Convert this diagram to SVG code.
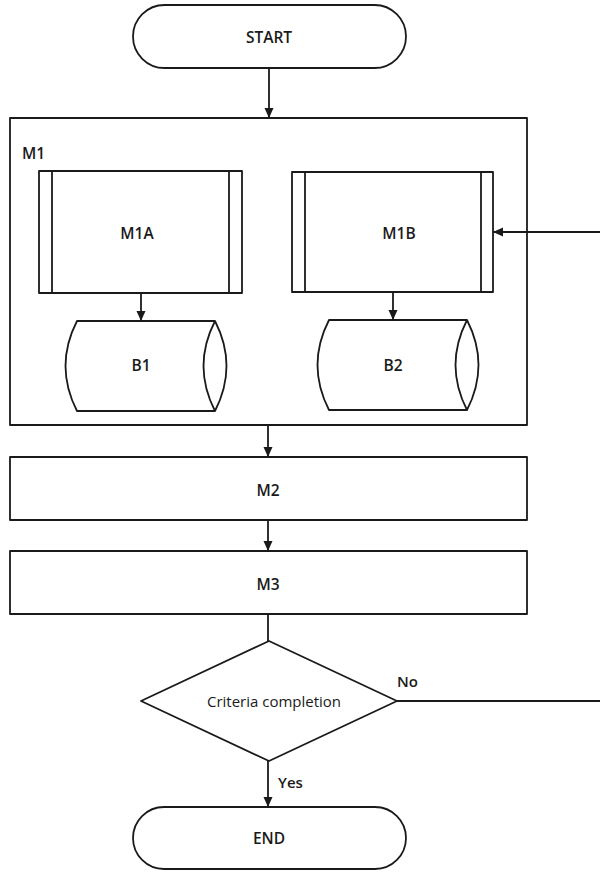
<svg xmlns="http://www.w3.org/2000/svg" width="600" height="872" viewBox="0 0 600 872">
<style>
.s{fill:#fff;stroke:#1a1a1a;stroke-width:1.8;stroke-linejoin:round}
.c{fill:none;stroke:#1a1a1a;stroke-width:1.8}
.t{font-family:"Open Sans","Noto Sans",sans-serif;font-size:15.5px;font-weight:600;fill:#1a1a1a;text-anchor:middle;dominant-baseline:central}
.r{font-family:"Open Sans","Noto Sans",sans-serif;font-size:15px;fill:#1a1a1a}
</style>
<defs>
<marker id="a" viewBox="0 0 10 10" refX="10" refY="5" markerWidth="10" markerHeight="10" markerUnits="userSpaceOnUse" orient="auto">
<path d="M0,0.5 L10,5 L0,9.5 Z" fill="#1a1a1a"/>
</marker>
</defs>
<rect width="600" height="872" fill="#fff"/>
<g id="start"><rect class="s" x="133" y="5" width="273" height="63" rx="31.5"/><text class="t" x="269" y="37">START</text></g>
<g id="m1"><rect class="s" x="10" y="118" width="517" height="307"/><text class="t" x="22" y="153" style="text-anchor:start">M1</text></g>
<g id="m1a"><rect class="s" x="39" y="171" width="203" height="122"/><line class="c" x1="52" y1="171" x2="52" y2="293"/><line class="c" x1="229" y1="171" x2="229" y2="293"/><text class="t" x="137" y="233">M1A</text></g>
<g id="m1b"><rect class="s" x="292" y="172" width="201" height="120"/><line class="c" x1="305" y1="172" x2="305" y2="292"/><line class="c" x1="481" y1="172" x2="481" y2="292"/><text class="t" x="399" y="233">M1B</text></g>
<g id="b1"><path class="s" d="M77,321 L215,321 Q238,366 215,411 L77,411 Q54,366 77,321 Z"/><path class="c" d="M215,321 Q192,366 215,411"/><text class="t" x="141" y="365">B1</text></g>
<g id="b2"><path class="s" d="M329,320 L467,320 Q490,365 467,410 L329,410 Q306,365 329,320 Z"/><path class="c" d="M467,320 Q444,365 467,410"/><text class="t" x="393" y="365">B2</text></g>
<g id="m2"><rect class="s" x="10" y="457" width="517" height="63"/><text class="t" x="268" y="490">M2</text></g>
<g id="m3"><rect class="s" x="10" y="551" width="517" height="63"/><text class="t" x="268" y="584">M3</text></g>
<g id="decision"><polygon class="s" points="269,641 397,701 269,761 141,701"/><text class="r" x="274" y="701" text-anchor="middle" dominant-baseline="central">Criteria completion</text></g>
<g id="end"><rect class="s" x="133" y="807" width="273" height="62" rx="31"/><text class="t" x="269" y="838">END</text></g>
<g id="connectors">
<line class="c" x1="269" y1="68" x2="269" y2="118" marker-end="url(#a)"/>
<line class="c" x1="141" y1="293" x2="141" y2="321" marker-end="url(#a)"/>
<line class="c" x1="393" y1="292" x2="393" y2="320" marker-end="url(#a)"/>
<line class="c" x1="600" y1="232" x2="493" y2="232" marker-end="url(#a)"/>
<line class="c" x1="268" y1="425" x2="268" y2="457" marker-end="url(#a)"/>
<line class="c" x1="268" y1="520" x2="268" y2="551" marker-end="url(#a)"/>
<line class="c" x1="268" y1="614" x2="268" y2="641"/>
<line class="c" x1="397" y1="701" x2="600" y2="701"/>
<line class="c" x1="268" y1="761" x2="268" y2="807" marker-end="url(#a)"/>
<text class="r" x="397" y="687" font-weight="600">No</text>
<text class="r" x="278" y="788" font-weight="600">Yes</text>
</g>
</svg>
